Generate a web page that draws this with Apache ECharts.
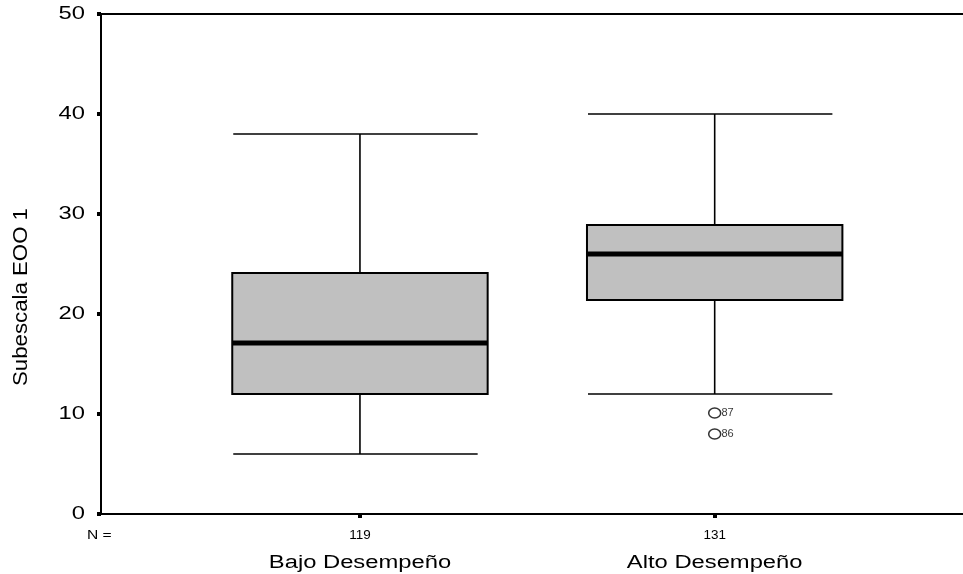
<!DOCTYPE html>
<html>
<head>
<meta charset="utf-8">
<script src="https://cdn.jsdelivr.net/npm/echarts@6/dist/echarts.min.js"></script>
<style>html,body{margin:0;padding:0;background:#fff}#c{width:963px;height:574px}</style>
</head>
<body>
<div id="c"></div>
<script>
// Data
var categories = ['Bajo Desempeño', 'Alto Desempeño'];
var counts = [119, 131];
var positions = [1, 2];
// [min, Q1, median, Q3, max]
var boxStats = [
  [6, 12, 17.1, 24.1, 38],
  [12, 21.4, 26, 28.9, 40]
];
var outlierGroup = [2, 2];
var outlierValues = [10.1, 8];
var outlierLabels = ['87', '86'];
var yTicks = [0, 10, 20, 30, 40, 50];
var yName = 'Subescala EOO 1';
var nLabel = 'N =';

var FONT = 'Liberation Sans, Arial, sans-serif';
var BOX_W = 0.72;
var STRETCH = 1.32;

var boxData = boxStats.map(function (s, i) { return [positions[i]].concat(s); });
var outlierData = outlierValues.map(function (v, i) {
  return { name: outlierLabels[i], value: [positions[outlierGroup[i] - 1], v] };
});

function renderBox(params, api) {
  var x = api.value(0);
  var pMin = api.coord([x, api.value(1)]);
  var pQ1 = api.coord([x, api.value(2)]);
  var pMed = api.coord([x, api.value(3)]);
  var pQ3 = api.coord([x, api.value(4)]);
  var pMax = api.coord([x, api.value(5)]);
  var w = api.size([BOX_W, 0])[0];
  var cx = pMed[0];
  var l = cx - w / 2, r = cx + w / 2;
  var stroke = { stroke: '#000', lineWidth: 1.6 };
  return {
    type: 'group',
    children: [
      { type: 'line', shape: { x1: cx, y1: pMax[1], x2: cx, y2: pQ3[1] }, style: stroke },
      { type: 'line', shape: { x1: cx, y1: pQ1[1], x2: cx, y2: pMin[1] }, style: stroke },
      { type: 'line', shape: { x1: l + 1, y1: pMax[1], x2: r - 10, y2: pMax[1] }, style: stroke },
      { type: 'line', shape: { x1: l + 1, y1: pMin[1], x2: r - 10, y2: pMin[1] }, style: stroke },
      { type: 'rect', shape: { x: l, y: pQ3[1], width: w, height: pQ1[1] - pQ3[1] },
        style: { fill: '#c0c0c0', stroke: '#000', lineWidth: 2 } },
      { type: 'line', shape: { x1: l, y1: pMed[1], x2: r, y2: pMed[1] },
        style: { stroke: '#000', lineWidth: 5 } }
    ]
  };
}

var chart = echarts.init(document.getElementById('c'), null, { renderer: 'canvas' });
chart.setOption({
  animation: false,
  backgroundColor: '#fff',
  grid: { left: 101, right: 0, top: 14, bottom: 60 },
  xAxis: [{
    type: 'value', min: 0.27, max: 2.7,
    splitLine: { show: false },
    axisLine: { show: true, onZero: false, lineStyle: { color: '#000', width: 2 } },
    axisTick: { show: true, customValues: positions, length: 4, inside: false,
      lineStyle: { color: '#000', width: 4 } },
    axisLabel: { show: false }
  }, {
    type: 'value', min: 0.27, max: 2.7, position: 'top',
    splitLine: { show: false },
    axisLine: { show: true, onZero: false, lineStyle: { color: '#000', width: 2 } },
    axisTick: { show: false }, axisLabel: { show: false }
  }],
  yAxis: {
    type: 'value', min: 0, max: 50, interval: 10,
    splitLine: { show: false },
    axisLine: { show: true, lineStyle: { color: '#000', width: 2 } },
    axisTick: { show: true, length: 4, lineStyle: { color: '#000', width: 4 } },
    axisLabel: { show: false }
  },
  series: [{
    type: 'custom',
    renderItem: renderBox,
    encode: { x: 0, y: [1, 2, 3, 4, 5] },
    data: boxData,
    z: 2
  }, {
    type: 'scatter',
    symbol: 'circle',
    symbolSize: [12, 10],
    itemStyle: { color: '#fff', borderColor: '#000', borderWidth: 1.4 },
    label: { show: true, position: 'right', distance: 0, formatter: '{b}',
      fontSize: 11, fontFamily: FONT, color: '#000' },
    data: outlierData,
    z: 3
  }]
});

// Text labels (stretched horizontally like the reference font)
var texts = [];
yTicks.forEach(function (v) {
  var p = chart.convertToPixel({ yAxisIndex: 0 }, v);
  texts.push({ type: 'text', x: 85, y: p, scaleX: STRETCH,
    style: { text: String(v), fontSize: 18, fontFamily: FONT, fill: '#000',
      align: 'right', verticalAlign: 'middle' } });
});
var axisBottom = chart.convertToPixel({ yAxisIndex: 0 }, 0);
positions.forEach(function (pos, i) {
  var px = chart.convertToPixel({ xAxisIndex: 0 }, pos);
  texts.push({ type: 'text', x: px, y: axisBottom + 22, scaleX: 1.12,
    style: { text: String(counts[i]), fontSize: 12, fontFamily: FONT, fill: '#000',
      align: 'center', verticalAlign: 'middle' } });
  texts.push({ type: 'text', x: px, y: axisBottom + 49, scaleX: STRETCH,
    style: { text: categories[i], fontSize: 18, fontFamily: FONT, fill: '#000',
      align: 'center', verticalAlign: 'middle' } });
});
texts.push({ type: 'text', x: 87, y: axisBottom + 22, scaleX: 1.3,
  style: { text: nLabel, fontSize: 12, fontFamily: FONT, fill: '#000',
    align: 'left', verticalAlign: 'middle' } });
texts.push({ type: 'text', x: 22, y: 297, rotation: Math.PI / 2, scaleX: 1.14,
  style: { text: yName, fontSize: 19.5, fontFamily: FONT, fill: '#000',
    align: 'center', verticalAlign: 'middle' } });
chart.setOption({ graphic: texts });
</script>
</body>
</html>
